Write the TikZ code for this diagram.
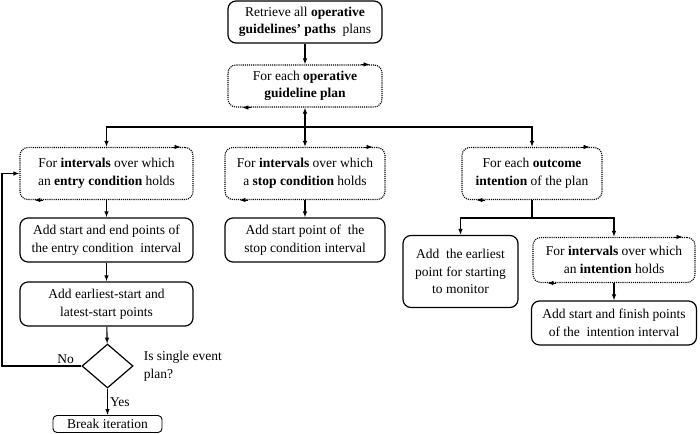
\documentclass[tikz,border=0pt]{standalone}
\usepackage{fontspec}
\setmainfont{Liberation Serif}
\usetikzlibrary{shapes.geometric}
\usetikzlibrary{positioning}
\usetikzlibrary{arrows.meta}

% small arrow tips sitting on the dotted border of a loop box
\newcommand{\looptips}[1]{%
	\draw [->, line width=0.8pt] ([xshift=-22pt]#1.north east) -- ([xshift=-13pt]#1.north east);
	\draw [->, line width=0.8pt] ([xshift=24pt]#1.south west) -- ([xshift=15pt]#1.south west);
}

\begin{document}
\begin{tikzpicture}[x = 1pt, y = -1pt,
		font = \fontsize{13.5}{17.5}\selectfont,
		>= {Latex[length=6pt, width=4.5pt]},
		actbox/.style = {draw, line width = 1.2pt, rounded corners = 8pt, align = center, inner sep = 2pt},
		loopbox/.style = {draw, densely dotted, line width = 1.1pt, rounded corners = 8pt, align = center, inner sep = 2pt},
		link/.style = {->, line width = 1.1pt}]
		\useasboundingbox (0, 0) rectangle (700, 433);

		\node [actbox, minimum width = 154pt, minimum height = 42pt] (retrieve) at (305, 22) {Retrieve all \textbf{operative}\\\textbf{guidelines’ paths}~ plans};
		\node [loopbox, minimum width = 154pt, minimum height = 42pt] (eachplan) at (305, 86) {For each \textbf{operative}\\\textbf{guideline plan}};

		\node [loopbox, minimum width = 173pt, minimum height = 52pt] (entry) at (106.5, 173.5) {For \textbf{intervals} over which\\an \textbf{entry condition} holds};
		\node [loopbox, minimum width = 160pt, minimum height = 52pt] (stop) at (305, 173.5) {For \textbf{intervals} over which\\a \textbf{stop condition} holds};
		\node [loopbox, minimum width = 140pt, minimum height = 52pt] (outcome) at (532, 173.5) {For each \textbf{outcome}\\\textbf{intention} of the plan};

		\node [actbox, minimum width = 173pt, minimum height = 44pt] (entrypts) at (106.5, 240) {Add start and end points of\\the entry condition~ interval};
		\node [actbox, minimum width = 173pt, minimum height = 44pt] (latest) at (106.5, 304) {Add earliest-start and\\latest-start points};
		\node [draw, diamond, line width = 1.2pt, minimum width = 51pt, minimum height = 44pt, inner sep = 0pt] (single) at (107.5, 366) {};
		\node [right = 10pt of single, align = left, inner sep = 0pt] (singleq) {Is single event\\plan?};
		\node [actbox, line width = 0.9pt, rounded corners = 4pt, inner sep = 1pt, minimum width = 109pt, minimum height = 17pt] (break) at (107.5, 424) {Break iteration};

		\node [actbox, minimum width = 160pt, minimum height = 44pt] (stoppt) at (305, 240) {Add start point of~ the\\stop condition interval};

		\node [actbox, minimum width = 115pt, minimum height = 72pt] (monitor) at (460.5, 271.5) {Add~ the earliest\\point for starting\\to monitor};
		\node [loopbox, minimum width = 162pt, minimum height = 45pt] (intention) at (614, 260) {For \textbf{intervals} over which\\an \textbf{intention} holds};
		\node [actbox, minimum width = 165pt, minimum height = 44pt] (intpts) at (614, 323) {Add start and finish points\\of the~ intention interval};

		\looptips{eachplan}
		\looptips{entry}
		\looptips{stop}
		\looptips{outcome}
		\looptips{intention}

		\coordinate (split) at (305, 127);
		\coordinate (osplit) at (532, 218);
		\coordinate (back) at (2, 366);

		\draw [link] (retrieve) -- (eachplan);
		\draw [link, <->] (eachplan) -- (stop);
		\draw [link] (split) -| (entry);
		\draw [link] (split) -| (outcome);

		\draw [link] (entry) -- (entrypts);
		\draw [link] (entrypts) -- (latest);
		\draw [link] (latest) -- (single);
		\draw [link] (single) -- node [right, inner sep = 2pt] {Yes} (break);
		\draw [link] (single) -- node [above, pos = 0.2, inner sep = 2pt] {No} (back) |- (entry);

		\draw [link] (stop) -- (stoppt);

		\draw [line width = 1.1pt] (outcome) -- (osplit);
		\draw [link] (osplit) -| (monitor);
		\draw [link] (osplit) -| (intention);
		\draw [link] (intention) -- (intpts);
	\end{tikzpicture}
\end{document}
